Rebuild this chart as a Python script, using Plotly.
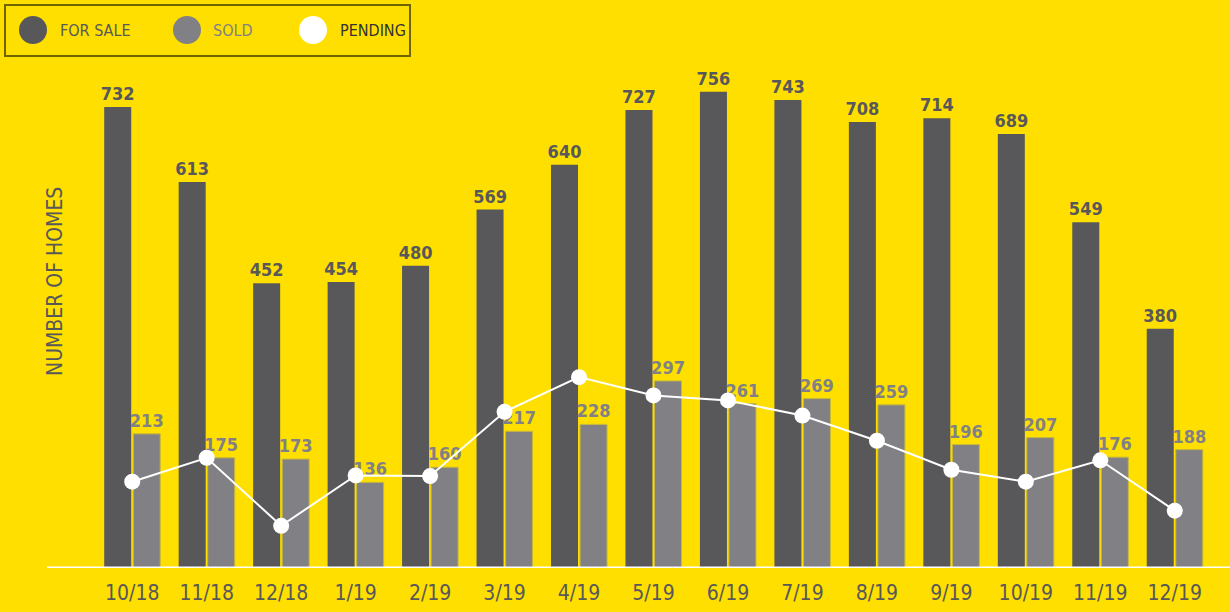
import plotly.graph_objects as go

months = ["10/18", "11/18", "12/18", "1/19", "2/19", "3/19", "4/19", "5/19",
          "6/19", "7/19", "8/19", "9/19", "10/19", "11/19", "12/19"]
for_sale = [732, 613, 452, 454, 480, 569, 640, 727, 756, 743, 708, 714, 689, 549, 380]
sold = [213, 175, 173, 136, 160, 217, 228, 297, 261, 269, 259, 196, 207, 176, 188]
pending = [137, 175, 67, 147, 146, 248, 303, 274, 266, 242, 202, 156, 137, 171, 91]

BG = "#FFDF00"
DARK = "#58585A"
GRAY = "#818185"
FONT = "DejaVu Sans Condensed, DejaVu Sans, sans-serif"

L, R, T, B = 95, 18, 20, 44
PW, PH = 1230 - L - R, 612 - T - B


def px_x(x):
    return (x - L) / PW


def px_y(y):
    return 1 - (y - T) / PH


fig = go.Figure()
fig.add_trace(go.Bar(
    x=months, y=for_sale, name="FOR SALE",
    marker=dict(color=DARK, line=dict(width=0)),
    text=[str(v) for v in for_sale], textposition="outside", constraintext="none",
    textfont=dict(family=FONT, size=18, color=DARK, weight="bold"),
    cliponaxis=False, showlegend=False,
))
fig.add_trace(go.Bar(
    x=months, y=sold, name="SOLD",
    marker=dict(color=GRAY, line=dict(width=1, color="#C8B83A")),
    text=[str(v) for v in sold], textposition="outside", constraintext="none",
    textfont=dict(family=FONT, size=18, color=GRAY, weight="bold"),
    cliponaxis=False, showlegend=False,
))
fig.add_trace(go.Scatter(
    x=months, y=pending, name="PENDING", mode="lines+markers",
    line=dict(color="white", width=2),
    marker=dict(color="white", size=16),
    cliponaxis=False, showlegend=False,
))

shapes = [
    dict(type="line", xref="paper", yref="y", x0=px_x(47), x1=px_x(1232), y0=0, y1=0,
         line=dict(color="white", width=3), layer="above"),
    dict(type="rect", xref="paper", yref="paper",
         x0=px_x(5), x1=px_x(410), y0=px_y(56), y1=px_y(5),
         line=dict(color="#6E6400", width=2), fillcolor="rgba(0,0,0,0)"),
]
legend_items = [("FOR SALE", DARK, DARK, 33, 58), ("SOLD", GRAY, GRAY, 187, 211),
                ("PENDING", "white", "#333333", 313, 338)]
annotations = []
for label, ccol, tcol, cx, tx in legend_items:
    shapes.append(dict(type="circle", xref="paper", yref="paper",
                       x0=px_x(cx - 14), x1=px_x(cx + 14),
                       y0=px_y(44), y1=px_y(16),
                       fillcolor=ccol, line=dict(width=0)))
    annotations.append(dict(text=label, xref="paper", yref="paper",
                            x=px_x(tx), y=px_y(30),
                            xanchor="left", yanchor="middle", showarrow=False,
                            font=dict(family=FONT, size=16, color=tcol)))

annotations.append(dict(text="NUMBER OF HOMES", xref="paper", yref="paper",
                        x=px_x(55), y=px_y(282), textangle=-90,
                        xanchor="center", yanchor="middle", showarrow=False,
                        font=dict(family=FONT, size=21, color=DARK)))

fig.update_layout(
    width=1230, height=612,
    paper_bgcolor=BG, plot_bgcolor=BG,
    margin=dict(l=L, r=R, t=T, b=B, autoexpand=False),
    barmode="group", bargap=0.22, bargroupgap=0.07,
    shapes=shapes, annotations=annotations,
    xaxis=dict(range=[-0.5, len(months) - 0.5], showgrid=False, zeroline=False,
               showline=False, ticks="", automargin=False, ticklabelstandoff=10,
               tickfont=dict(family=FONT, size=21, color=DARK)),
    yaxis=dict(range=[0, 870], showgrid=False, zeroline=False, showline=False,
               showticklabels=False, ticks="", automargin=False),
)

post = ("document.body.style.margin='0';document.body.style.overflow='hidden';")
fig.write_html("out.html", post_script=post, config={"displayModeBar": False})
